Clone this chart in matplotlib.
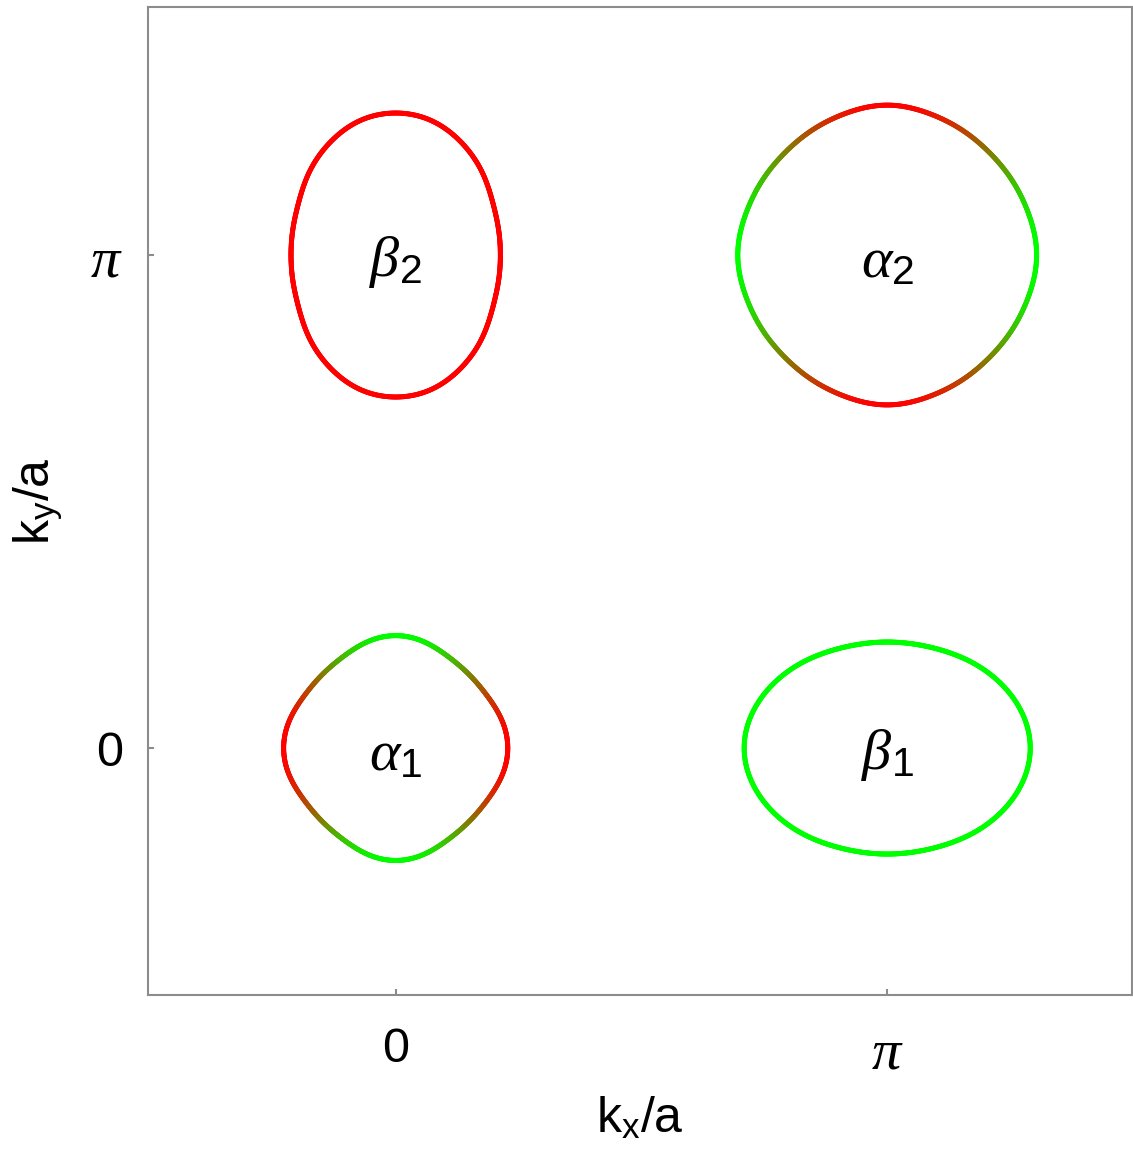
import numpy as np
import matplotlib
matplotlib.use("Agg")
import matplotlib.pyplot as plt
from matplotlib.collections import LineCollection

plt.rcParams['font.family'] = ['Liberation Sans', 'DejaVu Sans']
plt.rcParams['mathtext.fontset'] = 'custom'
plt.rcParams['mathtext.rm'] = 'Liberation Sans'
plt.rcParams['mathtext.it'] = 'Liberation Serif:italic'

# pockets of the Fermi surface (k in units of pi/a)
pocket_labels = [r'$\alpha_1$', r'$\beta_2$', r'$\alpha_2$', r'$\beta_1$']
center_kx = [0.0, 0.0, 1.0, 1.0]
center_ky = [0.0, 1.0, 1.0, 0.0]

# radius at these polar angles (first quadrant, mirrored)
angles_deg = [0, 15, 30, 45, 60, 75, 90]
radius_alpha1 = [0.228, 0.223, 0.214, 0.211, 0.214, 0.223, 0.228]
radius_beta2 = [0.213, 0.216, 0.226, 0.245, 0.265, 0.282, 0.288]
radius_alpha2 = [0.304, 0.300, 0.296, 0.294, 0.296, 0.300, 0.304]
radius_beta1 = [0.291, 0.283, 0.265, 0.245, 0.228, 0.218, 0.215]
radii = [radius_alpha1, radius_beta2, radius_alpha2, radius_beta1]

# red (1) / green (0) weight at the kx-extremes and ky-extremes of each pocket
red_at_x = [1.0, 1.0, 0.0, 0.0]
red_at_y = [0.0, 1.0, 1.0, 0.0]

tick_pos = [0.0, 1.0]
tick_labels = ['0', r'$\pi$']


def outline(r_samples, n=721):
    # smooth closed curve through the sampled radii (even cosine harmonics)
    th_s = np.radians(angles_deg)
    k = np.arange(len(th_s))
    A = np.cos(2 * np.outer(th_s, k))
    c = np.linalg.solve(A, np.array(r_samples))
    th = np.linspace(0, 2 * np.pi, n)
    r = np.cos(2 * np.outer(th, k)) @ c
    return th, r


fig = plt.figure(figsize=(11.33, 11.53), dpi=100)
ax = fig.add_axes([0.1306, 0.137, 0.8685, 0.8569])

for i in range(len(pocket_labels)):
    th, r = outline(radii[i])
    x = center_kx[i] + r * np.cos(th)
    y = center_ky[i] + r * np.sin(th)
    pts = np.column_stack([x, y]).reshape(-1, 1, 2)
    segs = np.concatenate([pts[:-1], pts[1:]], axis=1)
    thm = 0.5 * (th[:-1] + th[1:])
    w = red_at_x[i] * np.cos(thm) ** 2 + red_at_y[i] * np.sin(thm) ** 2
    w = np.clip(w, 0, 1)
    cols = np.column_stack([w, 1 - w, np.zeros_like(w)])
    lc = LineCollection(segs, colors=cols, linewidths=3.6, capstyle='round')
    ax.add_collection(lc)
    ax.text(center_kx[i], center_ky[i] - 0.015, pocket_labels[i],
            fontsize=42, ha='center', va='center')

ax.set_xlim(-0.504, 1.498)
ax.set_ylim(-0.501, 1.503)

for s in ax.spines.values():
    s.set_color('#8c8c8c')
    s.set_linewidth(1.5)

ax.set_xticks(tick_pos)
ax.set_xticklabels(tick_labels)
ax.set_yticks(tick_pos)
ax.set_yticklabels(tick_labels)
ax.tick_params(direction='in', length=4, width=1.5, color='#8c8c8c',
               labelsize=35, top=False, right=False)
ax.tick_params(axis='x', pad=23)
ax.tick_params(axis='y', pad=18)
for lab in ax.get_xticklabels()[1:] + ax.get_yticklabels()[1:]:
    lab.set_fontsize(42)

ax.set_xlabel(r'k$_\mathrm{x}$/a', fontsize=36, labelpad=10)
ax.set_ylabel(r'k$_\mathrm{y}$/a', fontsize=36, labelpad=18)

fig.savefig('out.png', dpi=100)
